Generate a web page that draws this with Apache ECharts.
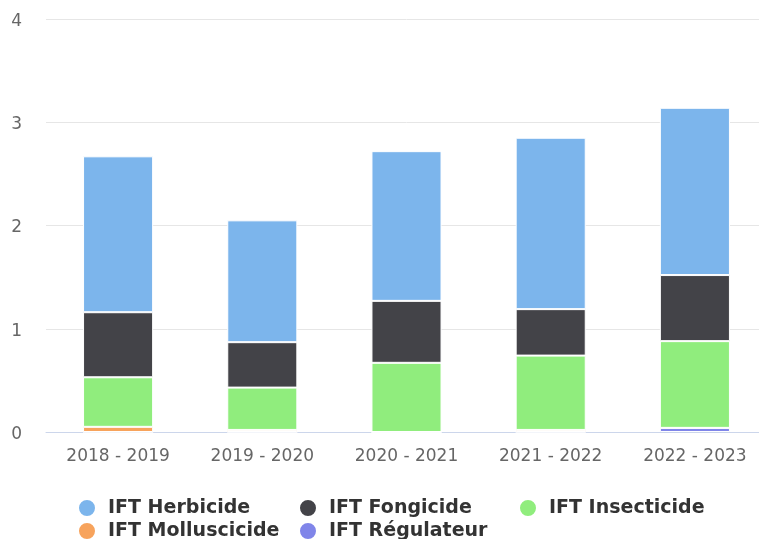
<!DOCTYPE html>
<html>
<head>
<meta charset="utf-8">
<script src="https://cdn.jsdelivr.net/npm/echarts@6/dist/echarts.min.js"></script>
<style>html,body{margin:0;padding:0;background:#fff;overflow:hidden}#c{width:767px;height:539px}</style>
</head>
<body>
<div id="c"></div>
<script>
var categories = ['2018 - 2019', '2019 - 2020', '2020 - 2021', '2021 - 2022', '2022 - 2023'];
var herbicide = [1.51, 1.18, 1.45, 1.66, 1.62];
var fongicide = [0.63, 0.44, 0.60, 0.45, 0.64];
var insecticide = [0.48, 0.41, 0.67, 0.72, 0.84];
var molluscicide = [0.05, 0.02, 0, 0.02, 0];
var regulateur = [0, 0, 0, 0, 0.04];
var yTicks = [0, 1, 2, 3, 4];

var names = ['IFT Herbicide', 'IFT Fongicide', 'IFT Insecticide', 'IFT Molluscicide', 'IFT Régulateur'];
var colors = {'IFT Herbicide': '#7cb5ec', 'IFT Fongicide': '#434348', 'IFT Insecticide': '#90ed7d', 'IFT Molluscicide': '#f7a35c', 'IFT Régulateur': '#8085e9'};
var dataMap = {'IFT Herbicide': herbicide, 'IFT Fongicide': fongicide, 'IFT Insecticide': insecticide, 'IFT Molluscicide': molluscicide, 'IFT Régulateur': regulateur};
var stackOrder = ['IFT Régulateur', 'IFT Molluscicide', 'IFT Insecticide', 'IFT Fongicide', 'IFT Herbicide'];

var legendPos = [[77, 498], [298, 498], [518, 498], [77, 521], [298, 521]];
var legends = names.map(function (n, i) {
  return {
    data: [n], left: legendPos[i][0], top: legendPos[i][1], icon: 'circle',
    padding: 0, itemWidth: 18, itemHeight: 18, itemGap: 0,
    textStyle: {fontFamily: 'DejaVu Sans', fontWeight: 'bold', fontSize: 19, color: '#333333', padding: [0, 0, 0, 7]},
    selectedMode: false
  };
});

var chart = echarts.init(document.getElementById('c'));
chart.setOption({
  animation: false,
  color: stackOrder.map(function (n) { return colors[n]; }),
  grid: {left: 46, right: 0, top: 19, bottom: 107, containLabel: false},
  legend: legends,
  xAxis: {
    type: 'category', data: categories,
    axisLine: {lineStyle: {color: '#ccd6eb', width: 1}},
    axisTick: {show: false},
    axisLabel: {fontFamily: 'DejaVu Sans', fontSize: 17, color: '#666666', margin: 16}
  },
  yAxis: {
    type: 'value', min: yTicks[0], max: yTicks[yTicks.length - 1], interval: 1,
    axisLine: {show: false}, axisTick: {show: false},
    splitLine: {lineStyle: {color: '#e6e6e6', width: 1}},
    axisLabel: {
      margin: 24,
      formatter: function (v) { return '{a|' + v + '}'; },
      rich: {a: {fontFamily: 'DejaVu Sans', fontSize: 17, color: '#666666', padding: [5, 0, 0, 0]}}
    }
  },
  series: stackOrder.map(function (n) {
    return {
      name: n, type: 'bar', stack: 'ift', data: dataMap[n], barWidth: '48.6%',
      itemStyle: {color: colors[n], borderColor: '#ffffff', borderWidth: 1}
    };
  })
});
</script>
</body>
</html>
